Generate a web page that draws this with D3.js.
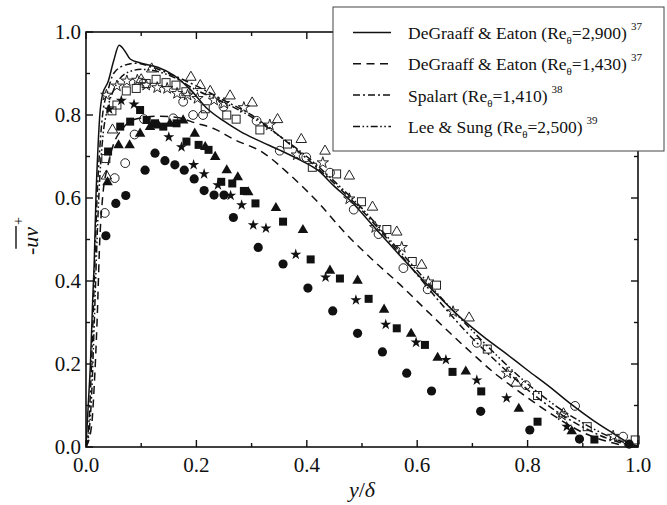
<!DOCTYPE html>
<html><head><meta charset="utf-8">
<script src="https://cdn.jsdelivr.net/npm/d3@7"></script>
<style>body{margin:0;background:#fff}svg{display:block}text{font-family:"Liberation Serif","Times New Roman",serif;fill:#111}</style>
</head><body><svg id="c" width="667" height="505"></svg>
<script>
const xTicks=[0,0.2,0.4,0.6,0.8,1.0];
const yTicks=[0,0.2,0.4,0.6,0.8,1.0];
const tickLabels=["0.0","0.2","0.4","0.6","0.8","1.0"];
const minorTicks=[0.1,0.3,0.5,0.7,0.9];

const lineDeGraaff2900=[[0,0],[0.004,0.1],[0.008,0.2],[0.012,0.35],[0.015,0.45],[0.018,0.6],[0.021,0.7],[0.025,0.8],[0.03,0.85],[0.04,0.88],[0.05,0.93],[0.06,0.968],[0.07,0.955],[0.08,0.935],[0.1,0.925],[0.13,0.915],[0.16,0.895],[0.19,0.86],[0.22,0.815],[0.25,0.785],[0.28,0.76],[0.31,0.74],[0.35,0.716],[0.39,0.69],[0.42,0.667],[0.45,0.628],[0.48,0.592],[0.52,0.533],[0.58,0.445],[0.63,0.375],[0.68,0.31],[0.72,0.266],[0.76,0.226],[0.8,0.185],[0.84,0.145],[0.88,0.102],[0.92,0.063],[0.955,0.033],[0.98,0.012],[1.0,0.002]];
const lineDeGraaff1430=[[0,0],[0.01,0.05],[0.015,0.15],[0.02,0.3],[0.025,0.5],[0.03,0.6],[0.04,0.68],[0.05,0.73],[0.065,0.765],[0.08,0.785],[0.1,0.793],[0.13,0.797],[0.165,0.794],[0.2,0.78],[0.23,0.768],[0.27,0.74],[0.32,0.71],[0.37,0.655],[0.42,0.59],[0.47,0.515],[0.52,0.45],[0.57,0.39],[0.62,0.325],[0.66,0.274],[0.7,0.225],[0.74,0.178],[0.78,0.138],[0.82,0.1],[0.86,0.065],[0.9,0.035],[0.94,0.015],[0.97,0.005],[1.0,0]];
const lineSpalart=[[0,0],[0.005,0.05],[0.01,0.2],[0.015,0.4],[0.02,0.6],[0.025,0.72],[0.03,0.8],[0.04,0.86],[0.05,0.9],[0.07,0.92],[0.09,0.925],[0.12,0.915],[0.15,0.9],[0.2,0.87],[0.25,0.835],[0.3,0.8],[0.35,0.75],[0.4,0.695],[0.45,0.635],[0.5,0.57],[0.55,0.495],[0.6,0.415],[0.65,0.335],[0.7,0.262],[0.75,0.198],[0.8,0.138],[0.85,0.088],[0.9,0.048],[0.95,0.018],[1.0,0]];
const lineLeeSung=[[0,0],[0.005,0.03],[0.01,0.12],[0.015,0.3],[0.02,0.5],[0.025,0.65],[0.03,0.74],[0.04,0.82],[0.05,0.86],[0.06,0.885],[0.08,0.905],[0.1,0.91],[0.13,0.905],[0.16,0.89],[0.2,0.86],[0.25,0.83],[0.3,0.795],[0.35,0.75],[0.4,0.7],[0.45,0.64],[0.5,0.575],[0.55,0.5],[0.6,0.425],[0.65,0.35],[0.7,0.28],[0.75,0.213],[0.8,0.152],[0.85,0.1],[0.9,0.058],[0.95,0.024],[1.0,0]];

const filledCircle=[[0.036,0.509],[0.054,0.587],[0.072,0.606],[0.107,0.667],[0.125,0.708],[0.143,0.690],[0.161,0.680],[0.178,0.667],[0.196,0.646],[0.214,0.618],[0.232,0.607],[0.250,0.607],[0.267,0.553],[0.312,0.481],[0.357,0.441],[0.402,0.383],[0.447,0.328],[0.492,0.274],[0.537,0.229],[0.581,0.178],[0.626,0.135],[0.715,0.086],[0.804,0.041],[0.894,0.019],[0.984,0.007]];
const filledSquare=[[0.040,0.712],[0.062,0.772],[0.080,0.784],[0.098,0.812],[0.110,0.788],[0.125,0.780],[0.140,0.772],[0.164,0.780],[0.182,0.736],[0.204,0.728],[0.222,0.716],[0.245,0.639],[0.265,0.635],[0.286,0.617],[0.307,0.587],[0.357,0.543],[0.407,0.452],[0.460,0.406],[0.512,0.357],[0.563,0.286],[0.614,0.246],[0.664,0.181],[0.716,0.134],[0.818,0.061],[0.921,0.018]];
const filledTriangle=[[0.039,0.639],[0.059,0.728],[0.079,0.728],[0.098,0.756],[0.116,0.772],[0.131,0.776],[0.152,0.780],[0.176,0.788],[0.197,0.756],[0.216,0.724],[0.234,0.700],[0.255,0.668],[0.275,0.651],[0.294,0.615],[0.344,0.577],[0.393,0.524],[0.442,0.426],[0.492,0.402],[0.540,0.332],[0.589,0.274],[0.637,0.216],[0.688,0.183],[0.784,0.093],[0.880,0.039]];
const filledStar=[[0.042,0.814],[0.064,0.835],[0.087,0.826],[0.150,0.747],[0.173,0.723],[0.195,0.680],[0.214,0.658],[0.239,0.631],[0.262,0.606],[0.282,0.583],[0.303,0.535],[0.326,0.527],[0.380,0.464],[0.434,0.409],[0.489,0.354],[0.543,0.295],[0.598,0.252],[0.652,0.210],[0.708,0.161],[0.762,0.118],[0.871,0.049]];
const openCircle=[[0.034,0.564],[0.052,0.648],[0.071,0.684],[0.088,0.753],[0.105,0.790],[0.158,0.792],[0.176,0.832],[0.194,0.800],[0.212,0.800],[0.249,0.820],[0.309,0.786],[0.351,0.714],[0.399,0.698],[0.442,0.661],[0.485,0.572],[0.530,0.513],[0.575,0.431],[0.619,0.380],[0.708,0.251],[0.797,0.149],[0.886,0.099],[0.973,0.025]];
const openSquare=[[0.036,0.695],[0.047,0.810],[0.056,0.824],[0.073,0.858],[0.091,0.864],[0.109,0.876],[0.127,0.886],[0.145,0.878],[0.163,0.872],[0.181,0.856],[0.216,0.815],[0.255,0.800],[0.272,0.790],[0.315,0.764],[0.365,0.730],[0.410,0.674],[0.454,0.658],[0.499,0.591],[0.545,0.524],[0.591,0.447],[0.635,0.390],[0.727,0.236],[0.818,0.124],[0.908,0.049],[0.995,0.017]];
const openTriangle=[[0.037,0.654],[0.048,0.765],[0.100,0.886],[0.119,0.912],[0.190,0.892],[0.207,0.872],[0.225,0.858],[0.261,0.847],[0.301,0.830],[0.347,0.790],[0.390,0.742],[0.433,0.714],[0.477,0.654],[0.519,0.579],[0.563,0.519],[0.608,0.439],[0.694,0.312],[0.779,0.155],[0.865,0.081]];
const openStar=[[0.037,0.848],[0.056,0.870],[0.074,0.882],[0.093,0.884],[0.109,0.872],[0.129,0.866],[0.147,0.864],[0.165,0.852],[0.184,0.848],[0.202,0.840],[0.232,0.836],[0.250,0.828],[0.286,0.818],[0.333,0.776],[0.382,0.704],[0.429,0.685],[0.477,0.598],[0.524,0.529],[0.572,0.481],[0.620,0.398],[0.665,0.326],[0.763,0.178],[0.862,0.077],[0.955,0.026]];

const legendNames=[["DeGraaff & Eaton (Re","=2,900)","37"],["DeGraaff & Eaton (Re","=1,430)","37"],["Spalart (Re","=1,410)","38"],["Lee & Sung (Re","=2,500)","39"]];

const svg=d3.select("#c");
const L=86,R=638,T=32,B=447;
const x=d3.scaleLinear().domain([0,1]).range([L,R]);
const y=d3.scaleLinear().domain([0,1]).range([B,T]);

svg.append("defs").append("clipPath").attr("id","clip").append("rect").attr("x",L).attr("y",T).attr("width",R-L).attr("height",B-T);

const dashes=[null,"8,5.5","7,3,2,3","7,2.5,1.6,2.5,1.6,2.5"];
const lineData=[lineDeGraaff2900,lineDeGraaff1430,lineSpalart,lineLeeSung];
const lg=d3.line().x(d=>x(d[0])).y(d=>y(d[1])).curve(d3.curveMonotoneX);
const gl=svg.append("g").attr("clip-path","url(#clip)");
lineData.forEach((ld,i)=>{
  gl.append("path").attr("d",lg(ld)).attr("fill","none").attr("stroke","#111").attr("stroke-width",1.5).attr("stroke-dasharray",dashes[i]);
});

// markers
function tri(s){const h=s*0.866;return `M0,${-h*0.62}L${s/2},${h*0.38}L${-s/2},${h*0.38}Z`;}
const starPath=d3.symbol().type(d3.symbolStar).size(38)();
const starPathO=d3.symbol().type(d3.symbolStar).size(40)();
const gm=svg.append("g");
function draw(data,kind,filled){
  const sel=gm.selectAll(null).data(data).enter();
  let el;
  if(kind==="circle") el=sel.append("circle").attr("cx",d=>x(d[0])).attr("cy",d=>y(d[1])).attr("r",filled?4.6:4.4);
  else if(kind==="square") el=sel.append("rect").attr("x",d=>x(d[0])-4).attr("y",d=>y(d[1])-4).attr("width",8).attr("height",8);
  else if(kind==="tri") el=sel.append("path").attr("d",tri(filled?10.5:10.5)).attr("transform",d=>`translate(${x(d[0])},${y(d[1])})`);
  else el=sel.append("path").attr("d",filled?starPath:starPathO).attr("transform",d=>`translate(${x(d[0])},${y(d[1])})`);
  if(filled) el.attr("fill","#111").attr("stroke","none");
  else el.attr("fill","none").attr("stroke","#222").attr("stroke-width",1);
}
draw(openCircle,"circle",false);
draw(openSquare,"square",false);
draw(openTriangle,"tri",false);
draw(openStar,"star",false);
draw(filledCircle,"circle",true);
draw(filledSquare,"square",true);
draw(filledTriangle,"tri",true);
draw(filledStar,"star",true);

// frame and ticks
const ga=svg.append("g");
ga.append("rect").attr("x",L).attr("y",T).attr("width",R-L).attr("height",B-T).attr("fill","none").attr("stroke","#111").attr("stroke-width",1.6);
const maj=7,mn=4;
xTicks.forEach(v=>{ga.append("line").attr("x1",x(v)).attr("x2",x(v)).attr("y1",B).attr("y2",B-maj).attr("stroke","#111").attr("stroke-width",1.4);
  ga.append("line").attr("x1",x(v)).attr("x2",x(v)).attr("y1",T).attr("y2",T+maj).attr("stroke","#111").attr("stroke-width",1.4);});
minorTicks.forEach(v=>{ga.append("line").attr("x1",x(v)).attr("x2",x(v)).attr("y1",B).attr("y2",B-mn).attr("stroke","#111").attr("stroke-width",1.4);
  ga.append("line").attr("x1",x(v)).attr("x2",x(v)).attr("y1",T).attr("y2",T+mn).attr("stroke","#111").attr("stroke-width",1.4);
  ga.append("line").attr("y1",y(v)).attr("y2",y(v)).attr("x1",L).attr("x2",L+mn).attr("stroke","#111").attr("stroke-width",1.4);
  ga.append("line").attr("y1",y(v)).attr("y2",y(v)).attr("x1",R).attr("x2",R-mn).attr("stroke","#111").attr("stroke-width",1.4);});
yTicks.forEach(v=>{ga.append("line").attr("y1",y(v)).attr("y2",y(v)).attr("x1",L).attr("x2",L+maj).attr("stroke","#111").attr("stroke-width",1.4);
  ga.append("line").attr("y1",y(v)).attr("y2",y(v)).attr("x1",R).attr("x2",R-maj).attr("stroke","#111").attr("stroke-width",1.4);});
xTicks.forEach((v,i)=>ga.append("text").attr("x",x(v)).attr("y",472).attr("text-anchor","middle").attr("font-size",21).text(tickLabels[i]));
yTicks.forEach((v,i)=>ga.append("text").attr("x",81).attr("y",y(v)+7).attr("text-anchor","end").attr("font-size",21).text(tickLabels[i]));

// x label
const xl=svg.append("text").attr("x",(L+R)/2).attr("y",497).attr("text-anchor","middle").attr("font-size",22);
xl.append("tspan").attr("font-style","italic").text("y");
xl.append("tspan").text("/");
xl.append("tspan").attr("font-style","italic").text("δ");

// y label
const gy=svg.append("g").attr("transform","translate(38,236) rotate(-90)");
const t1=gy.append("text").attr("font-size",22).text("-");
const t2=gy.append("text").attr("font-size",22).attr("font-style","italic").text("uv");
const t3=gy.append("text").attr("font-size",14).text("+");
const w1=t1.node().getComputedTextLength(),w2=t2.node().getComputedTextLength(),w3=t3.node().getComputedTextLength();
const tot=w1+w2+w3+2;let sx=-tot/2;
t1.attr("x",sx);t2.attr("x",sx+w1);t3.attr("x",sx+w1+w2+2).attr("y",-15);
gy.append("line").attr("x1",sx+w1-1).attr("x2",sx+w1+w2+1).attr("y1",-22).attr("y2",-22).attr("stroke","#111").attr("stroke-width",1.4);

// legend
const lgG=svg.append("g");
lgG.append("rect").attr("x",333).attr("y",7).attr("width",331).attr("height",144).attr("fill","#fff").attr("stroke","#444").attr("stroke-width",1);
legendNames.forEach((n,i)=>{
  const by=39+i*31.3;
  lgG.append("line").attr("x1",353).attr("x2",391).attr("y1",by-6.5).attr("y2",by-6.5).attr("stroke","#111").attr("stroke-width",1.5).attr("stroke-dasharray",dashes[i]);
  const t=lgG.append("text").attr("x",408).attr("y",by).attr("font-size",17.5);
  t.append("tspan").text(n[0]);
  t.append("tspan").attr("font-size",11).attr("dy",5).text("θ");
  t.append("tspan").attr("dy",-5).text(n[1]);
  t.append("tspan").attr("font-size",11).attr("dx",4).attr("dy",-9).text(n[2]);
});
</script></body></html>
